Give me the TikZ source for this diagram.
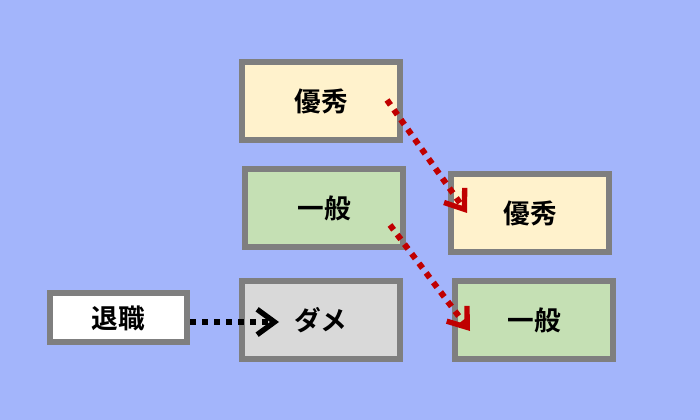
\documentclass[tikz,border=0pt]{standalone}
\usepackage{fontspec}
\newfontfamily\jpfont{Noto Sans CJK JP Bold}
\usetikzlibrary{arrows.meta}
\definecolor{bgblue}{HTML}{A3B5FB}
\definecolor{boxgray}{HTML}{7F7F7F}
\definecolor{cream}{HTML}{FFF2CC}
\definecolor{leaf}{HTML}{C5E0B4}
\definecolor{ash}{HTML}{D9D9D9}
\definecolor{arrowred}{HTML}{C00000}
\tikzset{every picture/.style={line width=0.75pt}}
\tikzset{
  rankbox/.style={draw=boxgray, line width=4.5pt, inner sep=0pt, minimum width=118.5pt, minimum height=58.5pt, font=\jpfont\fontsize{20}{20}\selectfont},
  moveline/.style={line width=4.5pt, dash pattern=on 4.5pt off 4.5pt, -{Straight Barb[length=13pt, width=19pt, line width=4pt]}}
}

\begin{document}
\begin{tikzpicture}[x=0.75pt,y=0.75pt,yscale=-1,xscale=1]
    % background
    \fill[bgblue] (0,0) rectangle (700,420);
    % Boxes
    \node[rankbox, fill=cream] (good1) at (321,101) {優秀};
    \node[rankbox, fill=leaf] (normal1) at (324,208) {一般};
    \node[rankbox, fill=ash] (bad1) at (321,320) {ダメ};
    \node[rankbox, fill=white, minimum width=102.75pt, minimum height=36.75pt] (quit) at (118,318) {退職};
    \node[rankbox, fill=cream] (good2) at (530,213) {優秀};
    \node[rankbox, fill=leaf] (normal2) at (534,320) {一般};
    % Arrow ends
    \coordinate (g1s) at (387,100);
    \coordinate (g2e) at (467,213);
    \coordinate (n1s) at (390,225);
    \coordinate (n2e) at (470,331);
    \coordinate (q1s) at (190,322);
    \coordinate (b1e) at (279,322);
    % Connection
    \draw[moveline, arrowred] (g1s) -- (g2e);
    % Connection
    \draw[moveline, arrowred] (n1s) -- (n2e);
    % Connection
    \draw[moveline, black] (q1s) -- (b1e);
\end{tikzpicture}
\end{document}
